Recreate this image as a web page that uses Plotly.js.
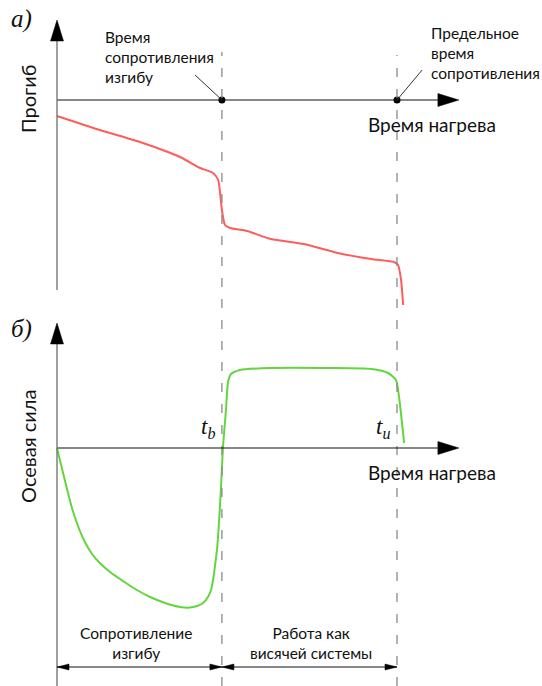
<!DOCTYPE html>
<html>
<head>
<meta charset="utf-8">
<script src="https://cdn.plot.ly/plotly-3.0.1.min.js"></script>
<style>html,body{margin:0;padding:0;background:#fff}#chart{width:542px;height:686px}</style>
</head>
<body>
<div id="chart"></div>
<script>
// ---- data (schematic units) ----
var tB = 48.5;   // время сопротивления изгибу
var tU = 100;    // предельное время сопротивления

// Panel а) — прогиб
var deflTime  = [0, 12.6, 24.4, 36.2, 42.1, 45.9, 47.4, 48.5, 49.4, 50.9, 55.9, 62.9, 72.6, 82.6, 92.4, 99.1, 100.3, 101.2, 101.8];
var deflValue = [-8, -15, -21, -28.5, -34, -36.5, -40, -55, -62.5, -64, -65.5, -69.5, -72, -76.5, -79.5, -81, -82.5, -90, -102.5];

// Panel б) — осевая сила
var forceTime  = [0, 4.4, 6.5, 8.2, 10.3, 12.6, 15.6, 19.4, 23.5, 27.4, 31.8, 36.2, 39.1, 41.2, 43.0, 44.4, 45.3, 45.9, 46.5, 47.1, 47.6, 48.2, 48.8, 49.7, 50.3, 51.2, 53.8, 62.9, 80.3, 92.4, 97.4, 99.7, 100.6, 102.1];
var forceValue = [0, -30, -40.5, -47, -53, -57.5, -62, -66.5, -71, -74.5, -77.5, -79.5, -79.8, -79, -77.5, -74.5, -71, -66, -58.5, -50, -38.5, -21, 0, 19, 33, 37, 39, 40, 40, 39.5, 37.5, 34, 25.5, 2.5];

var axisEndTime = 118.2;

// ---- geometry helpers ----
var W = 542, H = 686;
var kx = 1 / 3.4;   // time units per px
var ky = 0.5;       // value units per px
function P(x){ return x / W; }
function Q(y){ return 1 - y / H; }

function head(x, y, dir, len, hw, xref, yref){
  var pts;
  if(dir === 'right') pts = [[x, y], [x - len*kx, y + hw*ky], [x - len*kx, y - hw*ky]];
  if(dir === 'left')  pts = [[x, y], [x + len*kx, y + hw*ky], [x + len*kx, y - hw*ky]];
  if(dir === 'up')    pts = [[x, y], [x - hw*kx, y - len*ky], [x + hw*kx, y - len*ky]];
  var d = 'M' + pts.map(function(p){ return p[0] + ',' + p[1]; }).join('L') + 'Z';
  return {type:'path', path:d, xref:xref, yref:yref, fillcolor:'#000', line:{color:'#000', width:0.5}};
}
function seg(x0, y0, x1, y1, xref, yref, color, width, dash){
  return {type:'line', x0:x0, y0:y0, x1:x1, y1:y1, xref:xref, yref:yref,
          line:{color:color, width:width, dash:dash || 'solid'}};
}

var AH = 21, AW = 6.5;
var shapes = [
  // dashed verticals
  seg(tB, 0, tB, Q(52), 'x', 'paper', '#8a8a8a', 1.3, '9px,12px'),
  seg(tU, 0, tU, Q(55), 'x', 'paper', '#8a8a8a', 1.3, '9px,12px'),
  // top panel axes
  seg(0, 0, axisEndTime - AH*kx, 0, 'x', 'y', '#111', 1.2),
  head(axisEndTime, 0, 'right', AH, AW, 'x', 'y'),
  seg(0, -95, 0, 40 - AH*ky, 'x', 'y', '#777', 1.4),
  head(0, 40, 'up', AH, AW, 'x', 'y'),
  // leaders
  seg(tB, 0, 40.6, 12.5, 'x', 'y', '#333', 1),
  seg(tU, 0, 107.4, 15, 'x', 'y', '#333', 1),
  // bottom panel axes
  seg(0, 0, axisEndTime - AH*kx, 0, 'x', 'y2', '#111', 1.2),
  head(axisEndTime, 0, 'right', AH, AW, 'x', 'y2'),
  seg(0, -119, 0, 62.5 - AH*ky, 'x', 'y2', '#777', 1.4),
  head(0, 62.5, 'up', AH, AW, 'x', 'y2'),
  // dimension arrows
  seg(0, -109.5, tB, -109.5, 'x', 'y2', '#111', 1),
  head(0, -109.5, 'left', 12, 3, 'x', 'y2'),
  head(tB, -109.5, 'right', 12, 3, 'x', 'y2'),
  seg(tB, -109.5, tU, -109.5, 'x', 'y2', '#111', 1),
  head(tB, -109.5, 'left', 12, 3, 'x', 'y2'),
  head(tU, -109.5, 'right', 12, 3, 'x', 'y2')
];

var sans = 'Lato, "Open Sans", sans-serif';
var serif = '"Liberation Serif", "DejaVu Serif", serif';
var tc = '#111';
function txt(text, x, y, size, opts){
  var a = {text:text, x:P(x), y:Q(y), xref:'paper', yref:'paper', showarrow:false,
           font:{family:sans, size:size, color:tc}, xanchor:'center', yanchor:'middle'};
  for(var k in (opts||{})) a[k] = opts[k];
  return a;
}
var italicSerif = function(size){ return {family:serif, size:size, color:tc, style:'italic'}; };
var annotations = [
  txt('а)', 21, 19, 25, {font:italicSerif(25)}),
  txt('Прогиб', 28, 99, 20, {textangle:-90}),
  txt('Время<br>сопротивления<br>изгибу', 103, 57.5, 15.5, {xanchor:'left', align:'left'}),
  txt('Предельное<br>время<br>сопротивления', 429, 53.5, 15.5, {xanchor:'left', align:'left'}),
  txt('Время нагрева', 432, 124, 19),
  txt('б)', 21, 329, 25, {font:italicSerif(25)}),
  txt('Осевая сила', 28, 447, 20, {textangle:-90}),
  txt('t<sub>b</sub>', 208, 428, 23, {font:italicSerif(23)}),
  txt('t<sub>u</sub>', 383, 428, 23, {font:italicSerif(23)}),
  txt('Время нагрева', 432, 472, 19),
  txt('Сопротивление<br>изгибу', 136, 642.5, 15.5),
  txt('Работа как<br>висячей системы', 311, 642.5, 15.5)
];

var traces = [
  {x:deflTime, y:deflValue, xaxis:'x', yaxis:'y', type:'scatter', mode:'lines',
   line:{color:'#ff5c5c', width:2, shape:'spline', smoothing:0.6}, hoverinfo:'skip'},
  {x:forceTime, y:forceValue, xaxis:'x', yaxis:'y2', type:'scatter', mode:'lines',
   line:{color:'#62d63c', width:2, shape:'spline', smoothing:0.6}, hoverinfo:'skip'},
  {x:[tB, tU], y:[0, 0], xaxis:'x', yaxis:'y', type:'scatter', mode:'markers',
   marker:{color:'#000', size:7}, hoverinfo:'skip'}
];

var hidden = {visible:false, showgrid:false, zeroline:false, fixedrange:true};
var layout = {
  width:W, height:H, margin:{l:0, r:0, t:0, b:0},
  paper_bgcolor:'#fff', plot_bgcolor:'#fff', showlegend:false,
  xaxis:Object.assign({range:[-57*kx, (W-57)*kx], domain:[0,1], anchor:'y'}, hidden),
  yaxis:Object.assign({range:[(100-320)*ky, 100*ky], domain:[Q(320), 1], anchor:'x'}, hidden),
  yaxis2:Object.assign({range:[(448-686)*ky, (448-320)*ky], domain:[0, Q(320)], anchor:'x'}, hidden),
  shapes:shapes, annotations:annotations
};
Plotly.newPlot('chart', traces, layout, {staticPlot:true, displayModeBar:false});
</script>
</body>
</html>
